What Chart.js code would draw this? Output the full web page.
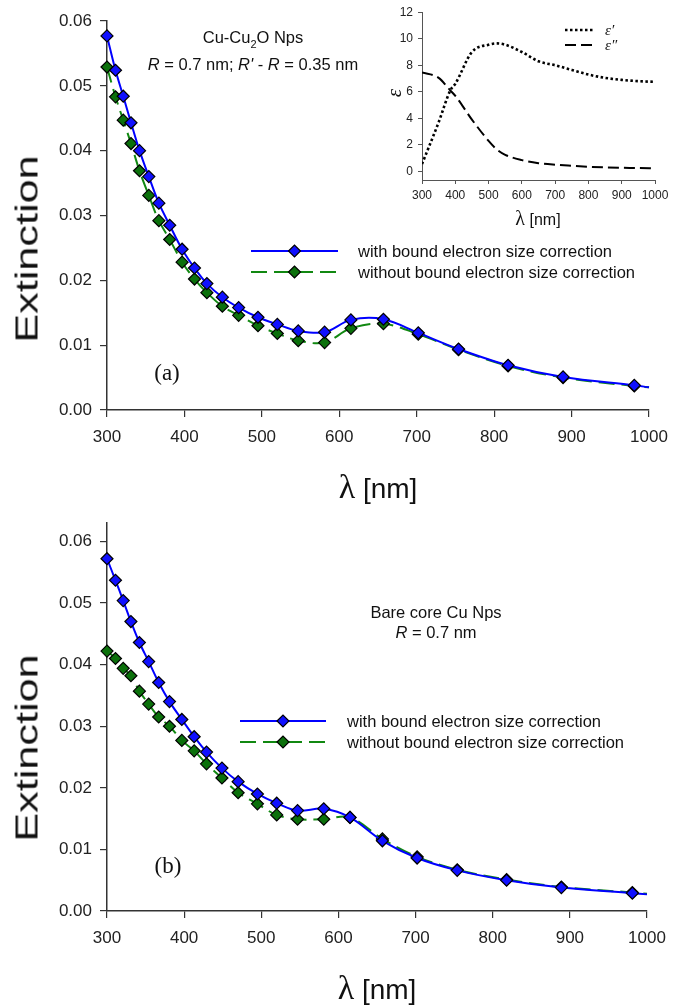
<!DOCTYPE html>
<html lang="en">
<head>
<meta charset="UTF-8">
<title>Extinction spectra of Cu nanoparticles</title>
<script src="https://cdn.jsdelivr.net/npm/chart.js"></script>
<style>
  body { margin: 0; background: #fff; }
  #wrap { position: relative; width: 686px; height: 1008px; font-family: 'Liberation Sans', Arial, sans-serif; color: #111; }
  .box { position: absolute; }
  .lbl { position: absolute; transform: translate(-50%, -50%); white-space: nowrap; pointer-events: none; }
  .ytitle { position: absolute; font-size: 32px; white-space: nowrap; transform: translate(-50%, -50%) rotate(-90deg) scaleX(1.35); }
  .serif { font-family: 'Liberation Serif', 'Times New Roman', serif; }
</style>
</head>
<body>
<div id="wrap">
  <div class="box" style="left:0;top:0;width:686px;height:500px"><canvas id="chartA"></canvas></div>
  <div class="box" style="left:380px;top:0;width:300px;height:235px"><canvas id="inset"></canvas></div>
  <div class="box" style="left:0;top:500px;width:686px;height:508px"><canvas id="chartB"></canvas></div>

  <!-- panel (a) text -->
  <div class="lbl" style="left:253px;top:39px;font-size:16.5px">Cu-Cu<sub style="font-size:11px">2</sub>O Nps</div>
  <div class="lbl" style="left:253px;top:64px;font-size:16.5px"><i>R</i> = 0.7 nm; <i>R'</i> - <i>R</i> = 0.35 nm</div>
  <div class="lbl serif" style="left:167px;top:373px;font-size:23px">(a)</div>
  <div class="ytitle" style="left:27px;top:249px">Extinction</div>
  <div class="lbl" style="left:378px;top:487px;font-size:28px"><span class="serif" style="font-size:34px">λ</span> [nm]</div>

  <!-- inset text -->
  <div class="lbl serif" style="left:394px;top:93px;font-size:21px;font-style:italic;transform:translate(-50%,-50%) rotate(-90deg)">ε</div>
  <div class="lbl" style="left:538px;top:218px;font-size:16px"><span class="serif" style="font-size:20px">λ</span> [nm]</div>

  <!-- panel (b) text -->
  <div class="lbl" style="left:436px;top:612px;font-size:16.5px">Bare core Cu Nps</div>
  <div class="lbl" style="left:436px;top:632px;font-size:16.5px"><i>R</i> = 0.7 nm</div>
  <div class="lbl serif" style="left:168px;top:866px;font-size:23px">(b)</div>
  <div class="ytitle" style="left:27px;top:748px">Extinction</div>
  <div class="lbl" style="left:377px;top:988px;font-size:28px"><span class="serif" style="font-size:34px">λ</span> [nm]</div>
</div>

<script>
// wavelengths (nm) of the plotted points, last one is the curve end without marker
const lambda = [300, 311, 321, 331, 342, 354, 367, 381, 397, 413, 429, 449, 470, 495,
                520, 547, 581, 615, 657, 702, 754, 818, 889, 981, 1000];

// panel (a): Cu-Cu2O
const withCorrA = [0.0577, 0.0524, 0.0484, 0.0443, 0.0400, 0.0360, 0.0319, 0.0285, 0.0248, 0.0219,
                   0.0195, 0.0174, 0.0158, 0.0143, 0.0132, 0.0122, 0.0120, 0.0139, 0.0140, 0.0119,
                   0.0094, 0.0069, 0.0051, 0.0038, 0.0035];
const withoutCorrA = [0.0529, 0.0483, 0.0447, 0.0411, 0.0369, 0.0331, 0.0292, 0.0263, 0.0228, 0.0202,
                      0.0181, 0.0160, 0.0146, 0.0130, 0.0118, 0.0107, 0.0104, 0.0126, 0.0133, 0.0117,
                      0.0093, 0.0068, 0.0050, 0.0037, 0.0035];

// panel (b): bare Cu
const withCorrB = [0.0572, 0.0537, 0.0504, 0.0470, 0.0436, 0.0405, 0.0371, 0.0340, 0.0311, 0.0283,
                   0.0258, 0.0232, 0.0210, 0.0190, 0.0175, 0.0163, 0.0166, 0.0152, 0.0114, 0.0086,
                   0.0066, 0.0050, 0.0038, 0.0029, 0.0027];
const withoutCorrB = [0.0422, 0.0410, 0.0394, 0.0382, 0.0357, 0.0336, 0.0315, 0.0300, 0.0277, 0.0260,
                      0.0239, 0.0216, 0.0192, 0.0174, 0.0156, 0.0149, 0.0149, 0.0152, 0.0117, 0.0088,
                      0.0067, 0.0051, 0.0039, 0.0030, 0.0028];

// inset: dielectric function of Cu2O shell
const lambdaInset = [300, 350, 385, 400, 450, 500, 525, 550, 600, 650, 700, 750, 800, 850, 900, 950, 1000];
const epsReal = [0.55, 3.7, 6.1, 6.6, 9.0, 9.55, 9.65, 9.55, 9.0, 8.3, 8.0, 7.65, 7.3, 7.05, 6.9, 6.8, 6.75];
const epsImag = [7.45, 7.05, 6.1, 5.7, 3.9, 2.3, 1.65, 1.25, 0.85, 0.62, 0.5, 0.42, 0.35, 0.3, 0.27, 0.25, 0.22];

// tick labels
const xTicks = [300, 400, 500, 600, 700, 800, 900, 1000];
const yTicks = [0, 0.01, 0.02, 0.03, 0.04, 0.05, 0.06];
const yTicksInset = [0, 2, 4, 6, 8, 10, 12];

const seriesNames = ['with bound electron size correction', 'without bound electron size correction'];

Chart.defaults.font.family = "'Liberation Sans', Arial, sans-serif";
Chart.defaults.color = '#222';

function pts(xs, ys) {
    return xs.map((x, i) => ({ x: x, y: ys[i] }));
}

// legend drawn as a line with the marker in its middle
const lineLegend = {
    id: 'lineLegend',
    afterDatasetsDraw(chart, args, opts) {
        if (!opts.ys) return;
        const ctx = chart.ctx;
        chart.data.datasets.forEach((ds, i) => {
            const y = opts.ys[i];
            ctx.save();
            ctx.strokeStyle = ds.borderColor;
            ctx.lineWidth = ds.borderWidth;
            ctx.setLineDash(ds.borderDash || []);
            ctx.beginPath();
            ctx.moveTo(opts.x1, y);
            ctx.lineTo(opts.x2, y);
            ctx.stroke();
            ctx.setLineDash([]);
            if (opts.marker) {
                ctx.fillStyle = ds.pointBackgroundColor;
                ctx.strokeStyle = ds.pointBorderColor;
                ctx.lineWidth = ds.pointBorderWidth;
                Chart.helpers.drawPoint(ctx, { pointStyle: 'rectRot', radius: 6, rotation: 0, borderWidth: ds.pointBorderWidth },
                    (opts.x1 + opts.x2) / 2, y);
            }
            ctx.fillStyle = '#111';
            ctx.font = opts.font;
            ctx.textBaseline = 'middle';
            ctx.fillText(ds.label, opts.tx, y + 1);
            ctx.restore();
        });
    }
};

function mainDatasets(withVals, withoutVals) {
    const common = {
        pointStyle: 'rectRot',
        pointRadius: c => c.dataIndex === c.dataset.data.length - 1 ? 0 : 6,
        pointBorderColor: '#000',
        pointBorderWidth: 1.2,
        borderWidth: 2,
        tension: 0.35,
        clip: false
    };
    return [
        Object.assign({
            label: seriesNames[0],
            data: pts(lambda, withVals),
            borderColor: '#0000ff',
            pointBackgroundColor: '#1010ff'
        }, common),
        Object.assign({
            label: seriesNames[1],
            data: pts(lambda, withoutVals),
            borderColor: '#118811',
            borderDash: [16, 7],
            pointBackgroundColor: '#0b700b'
        }, common)
    ];
}

function mainOptions(yMax, xHeight, legendPos) {
    return {
        responsive: true,
        maintainAspectRatio: false,
        animation: false,
        events: [],
        layout: { padding: { top: 21, right: 37, left: 0, bottom: 0 } },
        plugins: { legend: { display: false }, tooltip: { enabled: false }, lineLegend: legendPos },
        scales: {
            x: {
                type: 'linear', min: 300, max: 1000,
                afterBuildTicks: s => { s.ticks = xTicks.map(v => ({ value: v })); },
                afterFit: s => { s.height = xHeight; },
                grid: { drawOnChartArea: false, drawTicks: true, tickLength: 7, color: '#333', lineWidth: 1.2 },
                border: { color: '#333', width: 1.5 },
                ticks: { font: { size: 17 }, padding: 10, maxRotation: 0, callback: v => String(v) }
            },
            y: {
                min: 0, max: yMax,
                afterBuildTicks: s => { s.ticks = yTicks.map(v => ({ value: v })); },
                afterFit: s => { s.width = 107; },
                grid: { drawOnChartArea: false, drawTicks: true, tickLength: 7, color: '#333', lineWidth: 1.2 },
                border: { color: '#333', width: 1.5 },
                ticks: { font: { size: 17 }, padding: 8, callback: v => v.toFixed(2) }
            }
        }
    };
}

// panel (a)
new Chart(document.getElementById('chartA'), {
    type: 'line',
    data: { datasets: mainDatasets(withCorrA, withoutCorrA) },
    options: mainOptions(0.06, 90, { x1: 251, x2: 338, tx: 358, ys: [251, 272], marker: true, font: '16.5px "Liberation Sans", Arial' }),
    plugins: [lineLegend]
});

// panel (b)
const optB = mainOptions(0.063, 97, { x1: 240, x2: 326, tx: 347, ys: [221, 242], marker: true, font: '16.5px "Liberation Sans", Arial' });
optB.layout.padding.top = 23;
optB.layout.padding.right = 39;
new Chart(document.getElementById('chartB'), {
    type: 'line',
    data: { datasets: mainDatasets(withCorrB, withoutCorrB) },
    options: optB,
    plugins: [lineLegend]
});

// inset
new Chart(document.getElementById('inset'), {
    type: 'line',
    data: {
        datasets: [
            {
                label: 'ε\u2032',
                data: pts(lambdaInset, epsReal),
                borderColor: '#000',
                borderWidth: 2.6,
                borderDash: [2.5, 2.5],
                pointRadius: 0,
                cubicInterpolationMode: 'monotone'
            },
            {
                label: 'ε\u2033',
                data: pts(lambdaInset, epsImag),
                borderColor: '#000',
                borderWidth: 2,
                borderDash: [11, 5],
                pointRadius: 0,
                cubicInterpolationMode: 'monotone'
            }
        ]
    },
    options: {
        responsive: true,
        maintainAspectRatio: false,
        animation: false,
        events: [],
        layout: { padding: { top: 9, right: 25, left: 0, bottom: 0 } },
        plugins: {
            legend: { display: false },
            tooltip: { enabled: false },
            lineLegend: { x1: 185, x2: 213, tx: 225, ys: [30, 45], marker: false, font: 'italic 15px "Liberation Serif", serif' }
        },
        scales: {
            x: {
                type: 'linear', min: 300, max: 1000,
                afterBuildTicks: s => { s.ticks = xTicks.map(v => ({ value: v })); },
                afterFit: s => { s.height = 55; },
                grid: { drawOnChartArea: false, drawTicks: true, tickLength: 4, color: '#555', lineWidth: 1 },
                border: { color: '#555', width: 1 },
                ticks: { font: { size: 12 }, padding: 4, maxRotation: 0, callback: v => String(v) }
            },
            y: {
                min: -0.65, max: 12,
                afterBuildTicks: s => { s.ticks = yTicksInset.map(v => ({ value: v })); },
                afterFit: s => { s.width = 42; },
                grid: { drawOnChartArea: false, drawTicks: true, tickLength: 4, color: '#555', lineWidth: 1 },
                border: { color: '#555', width: 1 },
                ticks: { font: { size: 12 }, padding: 5 }
            }
        }
    },
    plugins: [lineLegend]
});
</script>
</body>
</html>
